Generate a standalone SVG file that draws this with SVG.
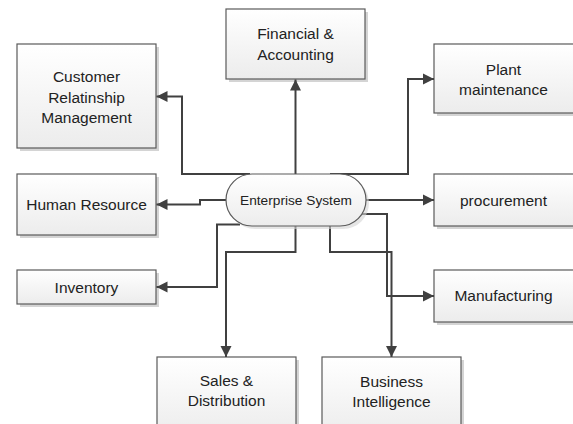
<svg xmlns="http://www.w3.org/2000/svg" width="573" height="424" viewBox="0 0 573 424">
<defs>
<linearGradient id="g" x1="0" y1="0" x2="0" y2="1">
<stop offset="0" stop-color="#ffffff"/>
<stop offset="1" stop-color="#ececec"/>
</linearGradient>
<marker id="arr" markerUnits="userSpaceOnUse" markerWidth="12" markerHeight="12" refX="11" refY="6" orient="auto" viewBox="0 0 12 12">
<path d="M0,0.5 L11,6 L0,11.5 Z" fill="#404040"/>
</marker>
<style>
.box{fill:url(#g);stroke:#5a5a5a;stroke-width:1.2}
.sh{fill:#d4d4d4}
.t{font-family:"Liberation Sans",Arial,sans-serif;font-size:15.5px;fill:#222;text-anchor:middle}
.te{font-family:"Liberation Sans",Arial,sans-serif;font-size:13.7px;fill:#222;text-anchor:middle}
.c{fill:none;stroke:#404040;stroke-width:2;marker-end:url(#arr)}
</style>
</defs>
<rect width="573" height="424" fill="#fff"/>
<g id="financial">
<rect class="sh" x="229" y="12" width="139" height="70"/>
<rect class="box" x="226" y="9" width="139" height="70"/>
<text class="t" x="295.5" y="39">Financial &amp;</text>
<text class="t" x="295.5" y="60">Accounting</text>
</g>
<g id="crm">
<rect class="sh" x="20" y="47" width="139" height="104"/>
<rect class="box" x="17" y="44" width="139" height="104"/>
<text class="t" x="86.5" y="81.5">Customer</text>
<text class="t" x="86.5" y="102.5">Relatinship</text>
<text class="t" x="86.5" y="123">Management</text>
</g>
<g id="hr">
<rect class="sh" x="20" y="177" width="139" height="61"/>
<rect class="box" x="17" y="174" width="139" height="61"/>
<text class="t" x="86.5" y="210">Human Resource</text>
</g>
<g id="inventory">
<rect class="sh" x="20" y="273" width="139" height="34"/>
<rect class="box" x="17" y="270" width="139" height="34"/>
<text class="t" x="86.5" y="292.5">Inventory</text>
</g>
<g id="sales">
<rect class="sh" x="160" y="360" width="139" height="80"/>
<rect class="box" x="157" y="357" width="139" height="80"/>
<text class="t" x="226.5" y="386">Sales &amp;</text>
<text class="t" x="226.5" y="406">Distribution</text>
</g>
<g id="bi">
<rect class="sh" x="325" y="360" width="139" height="80"/>
<rect class="box" x="322" y="357" width="139" height="80"/>
<text class="t" x="391.5" y="386.5">Business</text>
<text class="t" x="391.5" y="406.5">Intelligence</text>
</g>
<g id="plant">
<rect class="sh" x="437" y="47" width="140" height="69"/>
<rect class="box" x="434" y="44" width="140" height="69"/>
<text class="t" x="503.5" y="74.5">Plant</text>
<text class="t" x="503.5" y="95">maintenance</text>
</g>
<g id="procurement">
<rect class="sh" x="437" y="177" width="140" height="52"/>
<rect class="box" x="434" y="174" width="140" height="52"/>
<text class="t" x="503.5" y="206">procurement</text>
</g>
<g id="manufacturing">
<rect class="sh" x="437" y="273" width="140" height="52"/>
<rect class="box" x="434" y="270" width="140" height="52"/>
<text class="t" x="503.5" y="301">Manufacturing</text>
</g>
<g id="connectors">
<path class="c" d="M295.5,174 V79.5"/>
<path class="c" d="M250,174 H182 V96.5 H156.5"/>
<path class="c" d="M330,174 H408 V79 H434"/>
<path class="c" d="M226,200 H200 V204.5 H156.5"/>
<path class="c" d="M366,200 H434"/>
<path class="c" d="M240,224.5 H217 V287 H156.5"/>
<path class="c" d="M295.5,226 V252 H226 V357"/>
<path class="c" d="M330,226 V252 H391.5 V357"/>
<path class="c" d="M361.5,214 H387 V296 H434"/>
</g>
<g id="enterprise">
<rect class="sh" x="229" y="177" width="140" height="52" rx="26" ry="26" opacity="0.6"/>
<rect class="box" x="226" y="174" width="140" height="52" rx="26" ry="26"/>
<text class="te" x="296" y="205">Enterprise System</text>
</g>
</svg>
